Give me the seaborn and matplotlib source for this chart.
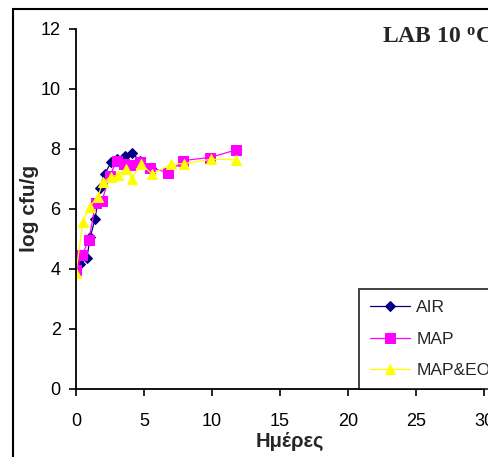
import matplotlib
matplotlib.use("Agg")
import matplotlib.pyplot as plt
import seaborn as sns
import numpy as np

# ---- data ----
air_days = [0, 0.3, 0.8, 1.05, 1.4, 1.75, 2.1, 2.6, 3.0, 3.6, 4.1, 4.7, 5.55]
air_vals = [4.0, 4.15, 4.35, 5.05, 5.65, 6.7, 7.15, 7.55, 7.65, 7.75, 7.85, 7.6, 7.35]

map_days = [0, 0.45, 0.95, 1.45, 1.9, 2.5, 3.0, 3.5, 4.0, 4.7, 5.45, 6.8, 7.9, 9.85, 11.75]
map_vals = [3.95, 4.45, 4.95, 6.2, 6.25, 7.1, 7.6, 7.5, 7.45, 7.55, 7.35, 7.2, 7.6, 7.7, 7.95]

eo_days = [0, 0.5, 1.0, 1.6, 2.0, 2.55, 3.1, 3.65, 4.1, 4.75, 5.6, 6.95, 7.95, 9.95, 11.8]
eo_vals = [3.86, 5.55, 6.05, 6.4, 6.88, 7.05, 7.12, 7.32, 7.0, 7.48, 7.15, 7.47, 7.5, 7.64, 7.63]

series_labels = ["AIR", "MAP", "MAP&EO"]
x_ticks = [0, 5, 10, 15, 20, 25, 30]
y_ticks = [0, 2, 4, 6, 8, 10, 12]
title = "LAB 10 "
xlabel = "Ημέρες"
ylabel = "log cfu/g"

sns.set_style("ticks")
plt.rcParams["font.family"] = ["Liberation Sans", "DejaVu Sans"]
plt.rcParams["mathtext.fontset"] = "custom"
plt.rcParams["mathtext.rm"] = "Liberation Serif"
plt.rcParams["mathtext.bf"] = "Liberation Serif:bold"

W, H = 489, 457
fig = plt.figure(figsize=(W / 100, H / 100), dpi=100)
fig.patch.set_facecolor("white")
ax = fig.add_axes([76 / W, 1 - 388.5 / H, (484 - 76) / W, (388.5 - 28.5) / H])
ax.set_facecolor("white")

common = dict(estimator=None, sort=False, linewidth=0.9, ax=ax)
sns.lineplot(x=air_days, y=air_vals, color="#000080", marker="D", markersize=5.5,
             markeredgecolor="#000080", markerfacecolor="#000080", label=series_labels[0], **common)
sns.lineplot(x=map_days, y=map_vals, color="#FF00FF", marker="s", markersize=6.5,
             markeredgecolor="#FF00FF", markerfacecolor="#FF00FF", label=series_labels[1], **common)
sns.lineplot(x=eo_days, y=eo_vals, color="#FFFF00", marker="^", markersize=7.5,
             markeredgecolor="#FFFF00", markerfacecolor="#FFFF00", label=series_labels[2], **common)

ax.set_xlim(0, 30)
ax.set_ylim(0, 12)
ax.set_xticks(x_ticks)
ax.set_yticks(y_ticks)
ax.tick_params(axis="both", labelsize=13, length=5, width=1.2, color="black",
               direction="out", labelcolor="black")
ax.tick_params(axis="y", pad=6)
ax.tick_params(axis="x", pad=13)
for s in ["top", "right"]:
    ax.spines[s].set_visible(False)
for s in ["left", "bottom"]:
    ax.spines[s].set_linewidth(1.3)
    ax.spines[s].set_color("black")
ax.set_xlabel("")
ax.set_ylabel("")

leg = ax.legend(loc="upper left", bbox_to_anchor=(359 / W, 1 - 289 / H),
                bbox_transform=fig.transFigure, borderaxespad=0, fontsize=12.5,
                handlelength=2.3, handletextpad=0.35, borderpad=0.65,
                labelspacing=0.93, frameon=True, fancybox=False)
leg.get_frame().set_edgecolor("black")
leg.get_frame().set_linewidth(1.3)

fig.text(382 / W, 1 - 42.3 / H, title + r"$\mathbf{^{o}}$C", family="Liberation Serif",
         fontweight="bold", fontsize=17, ha="left", va="baseline")
fig.text(290 / W, 1 - 447 / H, xlabel, fontweight="bold", fontsize=14.5,
         ha="center", va="baseline")
fig.text(30 / W, 1 - 208 / H, ylabel, fontweight="bold", fontsize=15, rotation=90,
         ha="center", va="center")

fig.add_artist(plt.Rectangle((13 / W, -0.1), 2, 1.1 - 9 / H, transform=fig.transFigure,
                             fill=False, lw=1.5, ec="black"))

fig.savefig("out.png", dpi=100)
